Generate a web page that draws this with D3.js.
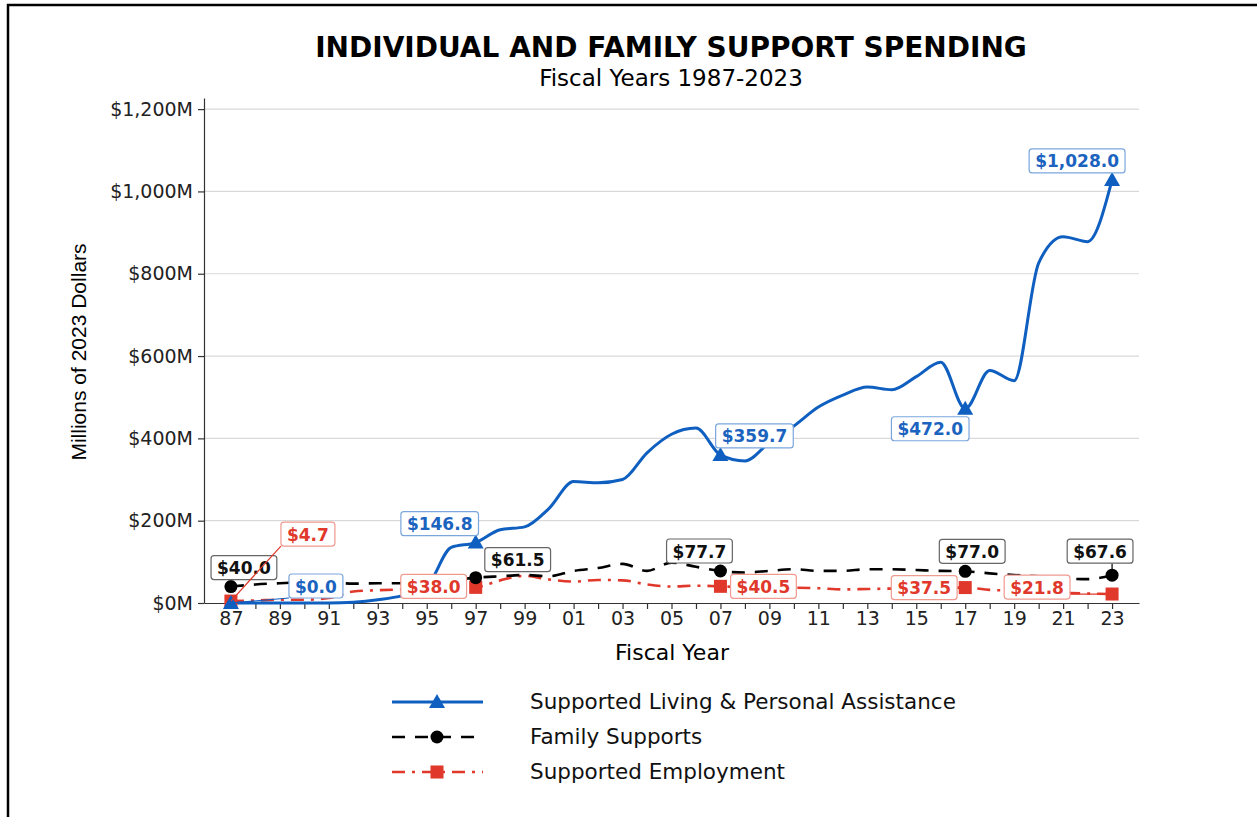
<!DOCTYPE html>
<html>
<head>
<meta charset="utf-8">
<script src="https://cdn.jsdelivr.net/npm/d3@7"></script>
<style>
  body { margin: 0; background: #fff; }
  svg { display: block; }
  .axis path, .axis line { stroke: #333; stroke-width: 1.2; }
  .axis text { font-family: 'DejaVu Sans', sans-serif; font-size: 19px; fill: #222; }
</style>
</head>
<body>
<div id="chart"></div>
<script>
// data (millions of 2023 dollars)
const years = d3.range(1987, 2024);

const livingValues = [
  0, 0, 0, 0, 0, 2, 8, 18, 40, 135,
  146.8, 178, 185, 230, 295, 292, 300, 365, 410, 425,
  359.7, 345, 390, 430, 476, 505, 525, 518, 550, 585,
  472.0, 565, 540, 826, 890, 878, 1028.0
];

const familyValues = [
  40.0, 45, 48, 50, 50, 47, 48, 48, 50, 55,
  61.5, 65, 68, 65, 78, 85, 95, 78, 98, 88,
  77.7, 74, 78, 82, 78, 78, 82, 82, 80, 78,
  77.0, 72, 68, 65, 60, 58, 67.6
];

const employmentValues = [
  4.7, 6, 8, 8, 12, 28, 31, 33, 34, 36,
  38.0, 55, 66, 57, 52, 56, 55, 45, 40, 42,
  40.5, 38, 35, 37, 36, 33, 34, 35, 36, 37,
  37.5, 32, 30, 27, 25, 23, 21.8
];

const markYears = [1987, 1997, 2007, 2017, 2023];
const yTicks = [0, 200, 400, 600, 800, 1000, 1200];
const xLabelYears = d3.range(1987, 2024, 2);

const seriesNames = [
  'Supported Living & Personal Assistance',
  'Family Supports',
  'Supported Employment'
];

// label box placement relative to the marker: [dx, dy, leader]
const livingLabelPos = [[85, -17, true], [-36, -19, false], [34, -19, false], [-35, 20, false], [-35, -19, false]];
const familyLabelPos = [[13, -19, false], [42, -18, false], [-21, -20, false], [7, -20, false], [-12, -24, true]];
const employmentLabelPos = [[77, -67, true], [-42, -1, false], [43, 0, false], [-41, 0, false], [-75, -7, true]];

const width = 1257;
const height = 817;

const svg = d3.select('#chart').append('svg')
  .attr('width', width)
  .attr('height', height);

// frame
svg.append('rect')
  .attr('x', 8).attr('y', 5)
  .attr('width', 1400).attr('height', 1000)
  .attr('fill', 'none')
  .attr('stroke', '#000')
  .attr('stroke-width', 2.5);

const scaleX = d3.scaleLinear().domain([1985.9, 2024.1]).range([204, 1139]);
const scaleY = d3.scaleLinear().domain([0, 1227]).range([603, 98]);

// title
svg.append('text')
  .attr('x', 671).attr('y', 57)
  .attr('text-anchor', 'middle')
  .style('font-family', 'DejaVu Sans, sans-serif')
  .style('font-weight', 'bold')
  .style('font-size', '28px')
  .text('INDIVIDUAL AND FAMILY SUPPORT SPENDING');

svg.append('text')
  .attr('x', 671).attr('y', 86)
  .attr('text-anchor', 'middle')
  .style('font-family', 'DejaVu Sans, sans-serif')
  .style('font-size', '23px')
  .text('Fiscal Years 1987-2023');

// grid
svg.append('g')
  .selectAll('line')
  .data(yTicks.filter((d) => d > 0))
  .enter().append('line')
  .attr('x1', 204).attr('x2', 1139)
  .attr('y1', (d) => scaleY(d)).attr('y2', (d) => scaleY(d))
  .style('stroke', '#d9d9d9')
  .style('stroke-width', 1.2);

// axes
const yAxis = d3.axisLeft(scaleY)
  .tickValues(yTicks)
  .tickSize(6)
  .tickPadding(5)
  .tickSizeOuter(0)
  .tickFormat((d) => `$${d3.format(',')(d)}M`);

svg.append('g')
  .attr('class', 'axis y-axis')
  .attr('transform', 'translate(204,0)')
  .call(yAxis);

const xAxis = d3.axisBottom(scaleX)
  .tickValues(years)
  .tickSize(6)
  .tickPadding(3)
  .tickSizeOuter(0)
  .tickFormat((d) => (xLabelYears.includes(d) ? String(d).slice(2) : ''));

svg.append('g')
  .attr('class', 'axis x-axis')
  .attr('transform', 'translate(0,603)')
  .call(xAxis);

svg.append('text')
  .attr('transform', 'translate(86,352) rotate(-90)')
  .attr('text-anchor', 'middle')
  .style('font-family', 'Liberation Sans, Arial, sans-serif')
  .style('font-size', '21px')
  .text('Millions of 2023 Dollars');

svg.append('text')
  .attr('x', 672).attr('y', 660)
  .attr('text-anchor', 'middle')
  .style('font-family', 'DejaVu Sans, sans-serif')
  .style('font-size', '22px')
  .text('Fiscal Year');

// series
const series = [
  {name: seriesNames[0], values: livingValues, color: '#0f5fc0', labelColor: '#1b63bf', boxColor: '#7aa6dd',
    dash: null, width: 3, marker: 'triangle', pos: livingLabelPos},
  {name: seriesNames[1], values: familyValues, color: '#000', labelColor: '#111', boxColor: '#666',
    dash: '13,10', width: 2.6, marker: 'circle', pos: familyLabelPos},
  {name: seriesNames[2], values: employmentValues, color: '#e0382a', labelColor: '#e0382a', boxColor: '#f09a90',
    dash: '13,7,3,7', width: 2.6, marker: 'square', pos: employmentLabelPos},
];

const line = d3.line()
  .x((d) => scaleX(d.year))
  .y((d) => scaleY(d.value))
  .curve(d3.curveMonotoneX);

const drawMarker = (g, type, color) => {
  if (type === 'triangle') {
    g.append('path').attr('d', 'M0,-8L8,6L-8,6Z').attr('fill', color);
  } else if (type === 'circle') {
    g.append('circle').attr('r', 6.5).attr('fill', color);
  } else {
    g.append('rect').attr('x', -6.5).attr('y', -6.5).attr('width', 13).attr('height', 13).attr('fill', color);
  }
};

// draw lines bottom up: employment, family, living
[2, 1, 0].forEach((i) => {
  const s = series[i];
  const pts = years.map((year, k) => ({year, value: s.values[k]}));
  svg.append('path')
    .datum(pts)
    .attr('d', line)
    .attr('fill', 'none')
    .attr('stroke', s.color)
    .attr('stroke-width', s.width)
    .attr('stroke-dasharray', s.dash);
});

[2, 1, 0].forEach((i) => {
  const s = series[i];
  markYears.forEach((year) => {
    const v = s.values[years.indexOf(year)];
    const g = svg.append('g').attr('transform', `translate(${scaleX(year)},${scaleY(v)})`);
    drawMarker(g, s.marker, s.color);
  });
});

// value labels
const fmt = d3.format(',.1f');
series.forEach((s) => {
  markYears.forEach((year, k) => {
    const v = s.values[years.indexOf(year)];
    const px = scaleX(year);
    const py = scaleY(v);
    const [dx, dy, leader] = s.pos[k];
    const cx = px + dx;
    const cy = py + dy;
    const g = svg.append('g');
    const t = g.append('text')
      .attr('x', cx).attr('y', cy + 6.5)
      .attr('text-anchor', 'middle')
      .style('font-family', 'DejaVu Sans, sans-serif')
      .style('font-weight', 'bold')
      .style('font-size', '17px')
      .style('fill', s.labelColor)
      .text(`$${fmt(v)}`);
    const w = t.node().getComputedTextLength() + 12;
    const h = 24;
    if (leader) {
      // leader from nearest box edge point to the marker
      const ex = Math.max(cx - w / 2, Math.min(px, cx + w / 2));
      const ey = Math.max(cy - h / 2, Math.min(py, cy + h / 2));
      g.insert('line', 'text')
        .attr('x1', ex).attr('y1', ey)
        .attr('x2', px).attr('y2', py)
        .attr('stroke', s.color)
        .attr('stroke-width', 1.2);
    }
    g.insert('rect', 'text')
      .attr('x', cx - w / 2).attr('y', cy - h / 2)
      .attr('width', w).attr('height', h)
      .attr('rx', 3)
      .attr('fill', '#fff')
      .attr('stroke', s.boxColor)
      .attr('stroke-width', 1.2);
  });
});

// legend
const legend = svg.append('g');
series.forEach((s, i) => {
  const ly = 702 + i * 35;
  legend.append('line')
    .attr('x1', 392).attr('x2', 483)
    .attr('y1', ly).attr('y2', ly)
    .attr('stroke', s.color)
    .attr('stroke-width', s.width)
    .attr('stroke-dasharray', s.dash);
  const g = legend.append('g').attr('transform', `translate(437,${ly})`);
  drawMarker(g, s.marker, s.color);
  legend.append('text')
    .attr('x', 530).attr('y', ly + 7)
    .style('font-family', 'DejaVu Sans, sans-serif')
    .style('font-size', '21.5px')
    .style('fill', '#111')
    .text(s.name);
});
</script>
</body>
</html>
